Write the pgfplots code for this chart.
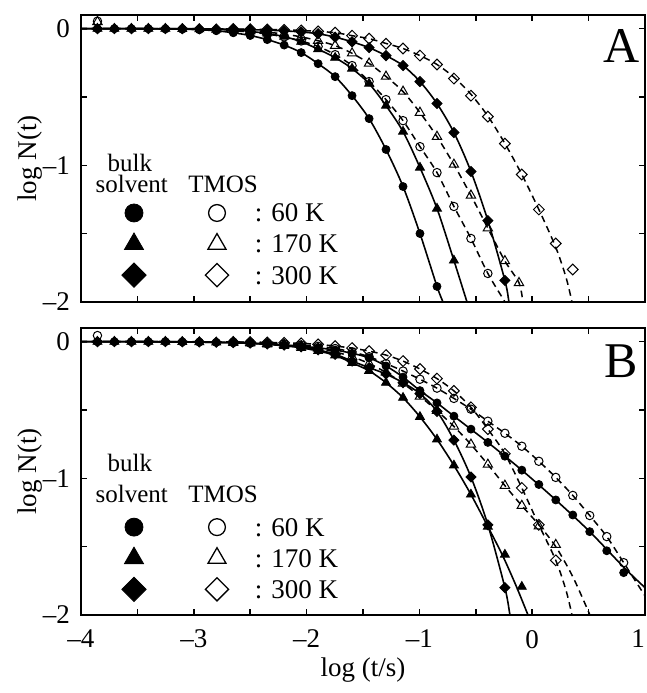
\documentclass[border=0pt]{standalone}
\usepackage{pgfplots}
\pgfplotsset{compat=1.18}
\usepackage{fontspec}
\setmainfont{Liberation Serif}
\pgfplotsset{
  panel/.style={
    scale only axis, width=282pt, height=143.5pt,
    xmin=-4, xmax=1, ymin=-2, ymax=0.1,
    xtick={-4,-3,-2,-1,0,1}, minor xtick={-3.5,-2.5,-1.5,-0.5,0.5},
    ytick={-2,-1,0}, minor ytick={-1.5,-0.5},
    yticklabels={--2,--1,0},
    tick align=inside, major tick length=2.8pt, minor tick length=2.8pt,
    axis line style={line width=1.1pt},
    every tick/.append style={line width=0.8pt, black},
    tick label style={font=\fontsize{13.5}{15}\selectfont},
    /pgf/number format/assume math mode=true,
    yticklabel style={xshift=-2pt},
    xticklabel style={yshift=-4pt},
    ylabel={log N(t)},
    every axis y label/.style={at={(axis description cs:-0.091,0.5)}, rotate=90, anchor=center, font=\fontsize{13.5}{15}\selectfont},
    every axis x label/.style={at={(axis description cs:0.5,-0.1916)}, anchor=center, font=\fontsize{13.5}{15}\selectfont},
    legend columns=2,
    legend style={draw=none, fill=none, inner sep=0pt, outer sep=0pt, row sep=3.5pt, column sep=0pt,
      nodes={inner sep=0pt, text depth=0pt, font=\fontsize{13.5}{15}\selectfont}, cells={anchor=west}},
  },
  fitb/.style={line width=0.8pt, black, smooth, no marks, forget plot},
  fitt/.style={line width=0.75pt, black, smooth, no marks, dash pattern=on 3.3pt off 2.3pt, forget plot},
  legb/.style={legend image code/.code={\pgfpathrectangle{\pgfpoint{-8pt}{-6pt}}{\pgfpoint{40.5pt}{12pt}}\pgfusepath{discard}\draw[##1] plot coordinates {(0pt,0pt)};}},
  legt/.style={legend image code/.code={\pgfpathrectangle{\pgfpoint{-8pt}{-6pt}}{\pgfpoint{27pt}{12pt}}\pgfusepath{discard}\draw[##1] plot coordinates {(0pt,0pt)};}},
  mb60/.style={only marks, black, mark=*, mark size=2pt, legb, legend image post style={mark size=4.5pt}},
  mb170/.style={only marks, black, mark=triangle*, mark size=2.6pt, legb, legend image post style={mark size=5.5pt}},
  mb300/.style={only marks, black, mark=square*, mark size=1.8pt, mark options={rotate=45}, legb, legend image post style={mark size=4.3pt}},
  mt60/.style={only marks, black, mark=o, mark size=2.1pt, mark options={line width=0.5pt}, legt, legend image post style={mark size=4.2pt, mark options={line width=0.65pt}}},
  mt170/.style={only marks, black, mark=triangle, mark size=2.7pt, mark options={line width=0.5pt}, legt, legend image post style={mark size=5.2pt, mark options={line width=0.65pt}}},
  mt300/.style={only marks, black, mark=square, mark size=1.9pt, mark options={rotate=45, line width=0.5pt}, legt, legend image post style={mark size=4.1pt, mark options={rotate=45, line width=0.65pt}}},
}
\begin{document}
\begin{tikzpicture}
% ---------------- Panel A ----------------
\begin{axis}[panel, at={(40.5pt,-151pt)}, anchor=south west, xticklabels={},
  legend style={at={(axis description cs:0.0656,0.352)}, anchor=north west}]
% fit lines
\addplot[fitb] coordinates {(-4.005,0) (-3.553,0) (-3.102,-0.004) (-2.951,-0.008) (-2.801,-0.015) (-2.650,-0.03) (-2.500,-0.05) (-2.349,-0.08) (-2.199,-0.12) (-2.048,-0.175) (-1.898,-0.256) (-1.747,-0.351) (-1.597,-0.490) (-1.446,-0.658) (-1.296,-0.884) (-1.145,-1.155) (-0.995,-1.499) (-0.844,-1.886) (-0.791,-2.0) (-0.77,-2.05)};
\addplot[fitb] coordinates {(-4.005,0) (-3.553,0) (-3.102,-0.002) (-2.951,-0.004) (-2.801,-0.006) (-2.650,-0.01) (-2.500,-0.02) (-2.349,-0.035) (-2.199,-0.058) (-2.048,-0.095) (-1.898,-0.15) (-1.747,-0.212) (-1.597,-0.292) (-1.446,-0.402) (-1.296,-0.563) (-1.145,-0.753) (-0.995,-1.016) (-0.844,-1.316) (-0.694,-1.696) (-0.578,-2.0) (-0.56,-2.05)};
\addplot[fitb] coordinates {(-4.005,0) (-3.553,0) (-3.102,0) (-2.801,-0.002) (-2.650,-0.004) (-2.500,-0.007) (-2.349,-0.011) (-2.199,-0.016) (-2.048,-0.024) (-1.898,-0.037) (-1.747,-0.062) (-1.597,-0.096) (-1.446,-0.139) (-1.296,-0.197) (-1.145,-0.270) (-0.995,-0.387) (-0.844,-0.548) (-0.694,-0.760) (-0.543,-1.045) (-0.393,-1.404) (-0.242,-1.842) (-0.206,-2.0) (-0.19,-2.07)};
\addplot[fitt] coordinates {(-4.005,0) (-3.553,0) (-3.102,-0.002) (-2.801,-0.007) (-2.650,-0.015) (-2.500,-0.025) (-2.349,-0.04) (-2.199,-0.06) (-2.048,-0.09) (-1.898,-0.13) (-1.747,-0.19) (-1.597,-0.27) (-1.446,-0.387) (-1.296,-0.519) (-1.145,-0.673) (-0.995,-0.863) (-0.844,-1.053) (-0.694,-1.301) (-0.543,-1.535) (-0.393,-1.791) (-0.241,-2.0) (-0.22,-2.03)};
\addplot[fitt] coordinates {(-4.005,0) (-3.553,0) (-3.102,-0.001) (-2.801,-0.004) (-2.650,-0.008) (-2.500,-0.015) (-2.349,-0.025) (-2.199,-0.04) (-2.048,-0.06) (-1.898,-0.088) (-1.747,-0.124) (-1.597,-0.18) (-1.446,-0.254) (-1.296,-0.35) (-1.145,-0.46) (-0.995,-0.614) (-0.844,-0.79) (-0.694,-0.994) (-0.543,-1.22) (-0.393,-1.46) (-0.242,-1.70) (-0.117,-1.86) (-0.082,-2.0) (-0.07,-2.05)};
\addplot[fitt] coordinates {(-4.005,0) (-3.553,0) (-3.102,0) (-2.650,-0.002) (-2.500,-0.004) (-2.349,-0.006) (-2.199,-0.009) (-2.048,-0.013) (-1.898,-0.02) (-1.747,-0.029) (-1.597,-0.051) (-1.446,-0.073) (-1.296,-0.108) (-1.145,-0.145) (-0.995,-0.197) (-0.844,-0.262) (-0.694,-0.355) (-0.543,-0.48) (-0.393,-0.64) (-0.242,-0.84) (-0.092,-1.067) (0.059,-1.323) (0.209,-1.60) (0.30,-1.82) (0.353,-2.0) (0.37,-2.07)};
% data points
\addplot[mb60] coordinates {(-4.005,0) (-3.854,0) (-3.704,0) (-3.553,0) (-3.403,0) (-3.252,-0.002) (-3.102,-0.004) (-2.951,-0.008) (-2.801,-0.015) (-2.650,-0.03) (-2.500,-0.05) (-2.349,-0.08) (-2.199,-0.12) (-2.048,-0.175) (-1.898,-0.256) (-1.747,-0.351) (-1.597,-0.490) (-1.446,-0.658) (-1.296,-0.884) (-1.145,-1.155) (-0.995,-1.499) (-0.844,-1.886)};
\addlegendentry{\hbox{}}
\addplot[mt60] coordinates {(-4.005,0.07) (-3.854,0.055) (-2.650,-0.015) (-2.500,-0.025) (-2.349,-0.04) (-2.199,-0.06) (-2.048,-0.09) (-1.898,-0.13) (-1.747,-0.19) (-1.597,-0.27) (-1.446,-0.387) (-1.296,-0.519) (-1.145,-0.673) (-0.995,-0.863) (-0.844,-1.053) (-0.694,-1.301) (-0.543,-1.535) (-0.393,-1.791)};
\addlegendentry{: 60 K}
\addplot[mb170] coordinates {(-4.005,0) (-3.854,0) (-3.704,0) (-3.553,0) (-3.403,0) (-3.252,0) (-3.102,-0.002) (-2.951,-0.004) (-2.801,-0.006) (-2.650,-0.01) (-2.500,-0.02) (-2.349,-0.035) (-2.199,-0.058) (-2.048,-0.095) (-1.898,-0.15) (-1.747,-0.212) (-1.597,-0.292) (-1.446,-0.402) (-1.296,-0.563) (-1.145,-0.753) (-0.995,-1.016) (-0.844,-1.316) (-0.694,-1.696)};
\addlegendentry{\hbox{}}
\addplot[mt170] coordinates {(-4.005,0.06) (-3.854,0.05) (-2.650,-0.008) (-2.500,-0.015) (-2.349,-0.025) (-2.199,-0.04) (-2.048,-0.06) (-1.898,-0.088) (-1.747,-0.124) (-1.597,-0.18) (-1.446,-0.254) (-1.296,-0.35) (-1.145,-0.46) (-0.995,-0.614) (-0.844,-0.79) (-0.694,-0.994) (-0.543,-1.22) (-0.393,-1.46) (-0.242,-1.70) (-0.117,-1.86)};
\addlegendentry{: 170 K}
\addplot[mb300] coordinates {(-4.005,0) (-3.854,0) (-3.704,0) (-3.553,0) (-3.403,0) (-3.252,0) (-3.102,0) (-2.951,-0.001) (-2.801,-0.002) (-2.650,-0.004) (-2.500,-0.007) (-2.349,-0.011) (-2.199,-0.016) (-2.048,-0.024) (-1.898,-0.037) (-1.747,-0.062) (-1.597,-0.096) (-1.446,-0.139) (-1.296,-0.197) (-1.145,-0.270) (-0.995,-0.387) (-0.844,-0.548) (-0.694,-0.760) (-0.543,-1.045) (-0.393,-1.404) (-0.242,-1.842)};
\addlegendentry{\hbox{}}
\addplot[mt300] coordinates {(-2.650,-0.002) (-2.500,-0.004) (-2.349,-0.006) (-2.199,-0.009) (-2.048,-0.013) (-1.898,-0.02) (-1.747,-0.029) (-1.597,-0.051) (-1.446,-0.073) (-1.296,-0.110) (-1.145,-0.145) (-0.995,-0.197) (-0.844,-0.262) (-0.694,-0.365) (-0.543,-0.490) (-0.393,-0.643) (-0.242,-0.841) (-0.092,-1.067) (0.059,-1.323) (0.209,-1.572) (0.360,-1.762)};
\addlegendentry{: 300 K}
\node[font=\fontsize{25}{28}\selectfont] at (axis description cs:0.958,0.893) {A};
\node[anchor=base, font=\fontsize{12.5}{14}\selectfont] at (axis description cs:0.0866,0.456) {bulk};
\node[anchor=base, font=\fontsize{12.5}{14}\selectfont] at (axis description cs:0.0900,0.380) {solvent};
\node[anchor=base, font=\fontsize{12.5}{14}\selectfont] at (axis description cs:0.2520,0.380) {TMOS};
\end{axis}
% ---------------- Panel B ----------------
\begin{axis}[panel, at={(40.5pt,-307.5pt)}, anchor=south west, xlabel={log (t/s)},
  xticklabels={--4,--3,--2,--1,0,\llap{1}},
  legend style={at={(axis description cs:0.0656,0.348)}, anchor=north west}]
\addplot[fitb] coordinates {(-4.005,0) (-3.553,0) (-3.102,-0.002) (-2.801,-0.005) (-2.650,-0.008) (-2.500,-0.012) (-2.349,-0.017) (-2.199,-0.024) (-2.048,-0.033) (-1.898,-0.045) (-1.747,-0.061) (-1.597,-0.085) (-1.446,-0.118) (-1.296,-0.178) (-1.145,-0.259) (-0.995,-0.358) (-0.844,-0.448) (-0.694,-0.545) (-0.393,-0.737) (-0.092,-0.940) (0.209,-1.158) (0.510,-1.39) (0.811,-1.65) (1.0,-1.80)};
\addplot[fitb] coordinates {(-4.005,0) (-3.553,0) (-3.102,-0.002) (-2.801,-0.005) (-2.650,-0.008) (-2.500,-0.013) (-2.349,-0.02) (-2.199,-0.03) (-2.048,-0.045) (-1.898,-0.068) (-1.747,-0.10) (-1.597,-0.155) (-1.446,-0.213) (-1.296,-0.30) (-1.145,-0.41) (-0.995,-0.55) (-0.844,-0.715) (-0.694,-0.905) (-0.543,-1.118) (-0.393,-1.353) (-0.265,-1.56) (-0.146,-1.78) (-0.037,-2.0) (-0.02,-2.03)};
\addplot[fitb] coordinates {(-4.005,0) (-3.553,0) (-3.102,-0.001) (-2.801,-0.004) (-2.650,-0.006) (-2.500,-0.01) (-2.349,-0.016) (-2.199,-0.025) (-2.048,-0.038) (-1.898,-0.06) (-1.747,-0.092) (-1.597,-0.142) (-1.446,-0.19) (-1.296,-0.237) (-1.145,-0.30) (-0.995,-0.38) (-0.844,-0.51) (-0.694,-0.72) (-0.543,-0.99) (-0.393,-1.34) (-0.242,-1.80) (-0.197,-2.0) (-0.18,-2.07)};
\addplot[fitt] coordinates {(-4.005,0) (-3.553,0) (-3.102,-0.001) (-2.801,-0.002) (-2.650,-0.004) (-2.500,-0.007) (-2.349,-0.011) (-2.199,-0.016) (-2.048,-0.024) (-1.898,-0.034) (-1.747,-0.05) (-1.597,-0.075) (-1.446,-0.11) (-1.296,-0.16) (-1.145,-0.215) (-0.995,-0.275) (-0.844,-0.34) (-0.694,-0.415) (-0.543,-0.494) (-0.393,-0.582) (-0.242,-0.670) (-0.092,-0.765) (0.059,-0.875) (0.209,-0.993) (0.360,-1.125) (0.510,-1.272) (0.661,-1.426) (0.811,-1.617) (1.0,-1.86)};
\addplot[fitt] coordinates {(-4.005,0) (-3.553,0) (-3.102,-0.001) (-2.801,-0.002) (-2.650,-0.004) (-2.500,-0.008) (-2.349,-0.014) (-2.199,-0.022) (-2.048,-0.033) (-1.898,-0.05) (-1.747,-0.075) (-1.597,-0.11) (-1.446,-0.16) (-1.296,-0.225) (-1.145,-0.305) (-0.995,-0.40) (-0.844,-0.505) (-0.694,-0.62) (-0.543,-0.752) (-0.393,-0.899) (-0.242,-1.053) (-0.092,-1.200) (0.059,-1.34) (0.209,-1.50) (0.36,-1.72) (0.512,-2.0) (0.53,-2.04)};
\addplot[fitt] coordinates {(-4.005,0) (-3.553,0) (-3.102,0) (-2.650,-0.002) (-2.500,-0.003) (-2.349,-0.005) (-2.199,-0.008) (-2.048,-0.012) (-1.898,-0.02) (-1.747,-0.032) (-1.597,-0.047) (-1.446,-0.069) (-1.296,-0.098) (-1.145,-0.142) (-0.995,-0.200) (-0.844,-0.27) (-0.694,-0.36) (-0.543,-0.48) (-0.393,-0.64) (-0.242,-0.82) (-0.092,-1.07) (0.059,-1.34) (0.209,-1.60) (0.30,-1.82) (0.353,-2.0) (0.37,-2.07)};
\addplot[mb60] coordinates {(-4.005,0) (-3.854,0) (-3.704,0) (-3.553,0) (-3.403,0) (-3.252,0) (-3.102,-0.002) (-2.951,-0.003) (-2.801,-0.005) (-2.650,-0.008) (-2.500,-0.012) (-2.349,-0.017) (-2.199,-0.024) (-2.048,-0.033) (-1.898,-0.045) (-1.747,-0.061) (-1.597,-0.085) (-1.446,-0.118) (-1.296,-0.178) (-1.145,-0.259) (-0.995,-0.358) (-0.844,-0.448) (-0.694,-0.545) (-0.543,-0.640) (-0.393,-0.737) (-0.242,-0.838) (-0.092,-0.940) (0.059,-1.045) (0.209,-1.158) (0.360,-1.268) (0.510,-1.390) (0.661,-1.530) (0.811,-1.690)};
\addlegendentry{\hbox{}}
\addplot[mt60] coordinates {(-4.005,0.04) (-3.854,0.045) (-2.650,-0.004) (-2.500,-0.007) (-2.349,-0.011) (-2.199,-0.016) (-2.048,-0.024) (-1.898,-0.034) (-1.747,-0.05) (-1.597,-0.075) (-1.446,-0.11) (-1.296,-0.16) (-1.145,-0.215) (-0.995,-0.275) (-0.844,-0.34) (-0.694,-0.415) (-0.543,-0.494) (-0.393,-0.582) (-0.242,-0.670) (-0.092,-0.765) (0.059,-0.875) (0.209,-0.993) (0.360,-1.125) (0.510,-1.272) (0.661,-1.426) (0.811,-1.617)};
\addlegendentry{: 60 K}
\addplot[mb170] coordinates {(-4.005,0) (-3.854,0) (-3.704,0) (-3.553,0) (-3.403,0) (-3.252,0) (-3.102,-0.002) (-2.951,-0.003) (-2.801,-0.005) (-2.650,-0.008) (-2.500,-0.013) (-2.349,-0.02) (-2.199,-0.03) (-2.048,-0.045) (-1.898,-0.068) (-1.747,-0.10) (-1.597,-0.155) (-1.446,-0.213) (-1.296,-0.30) (-1.145,-0.41) (-0.995,-0.55) (-0.844,-0.715) (-0.694,-0.905) (-0.543,-1.118) (-0.393,-1.353) (-0.242,-1.558) (-0.092,-1.793)};
\addlegendentry{\hbox{}}
\addplot[mt170] coordinates {(-2.650,-0.004) (-2.500,-0.008) (-2.349,-0.014) (-2.199,-0.022) (-2.048,-0.033) (-1.898,-0.05) (-1.747,-0.075) (-1.597,-0.11) (-1.446,-0.16) (-1.296,-0.225) (-1.145,-0.305) (-0.995,-0.40) (-0.844,-0.505) (-0.694,-0.62) (-0.543,-0.752) (-0.393,-0.899) (-0.242,-1.053) (-0.092,-1.200) (0.059,-1.35) (0.209,-1.486)};
\addlegendentry{: 170 K}
\addplot[mb300] coordinates {(-4.005,0) (-3.854,0) (-3.704,0) (-3.553,0) (-3.403,0) (-3.252,0) (-3.102,-0.001) (-2.951,-0.002) (-2.801,-0.004) (-2.650,-0.006) (-2.500,-0.01) (-2.349,-0.016) (-2.199,-0.025) (-2.048,-0.038) (-1.898,-0.06) (-1.747,-0.092) (-1.597,-0.142) (-1.446,-0.19) (-1.296,-0.237) (-1.145,-0.30) (-0.995,-0.38) (-0.844,-0.51) (-0.694,-0.72) (-0.543,-0.99) (-0.393,-1.34) (-0.242,-1.80)};
\addlegendentry{\hbox{}}
\addplot[mt300] coordinates {(-2.650,-0.002) (-2.500,-0.003) (-2.349,-0.005) (-2.199,-0.008) (-2.048,-0.012) (-1.898,-0.02) (-1.747,-0.032) (-1.597,-0.047) (-1.446,-0.069) (-1.296,-0.098) (-1.145,-0.142) (-0.995,-0.200) (-0.844,-0.27) (-0.694,-0.36) (-0.543,-0.48) (-0.393,-0.64) (-0.242,-0.82) (-0.092,-1.07) (0.059,-1.34) (0.209,-1.60)};
\addlegendentry{: 300 K}
\node[font=\fontsize{25}{28}\selectfont] at (axis description cs:0.957,0.883) {B};
\node[anchor=base, font=\fontsize{12.5}{14}\selectfont] at (axis description cs:0.0866,0.500) {bulk};
\node[anchor=base, font=\fontsize{12.5}{14}\selectfont] at (axis description cs:0.0900,0.393) {solvent};
\node[anchor=base, font=\fontsize{12.5}{14}\selectfont] at (axis description cs:0.2520,0.393) {TMOS};
\end{axis}
\pgfresetboundingbox
\path[use as bounding box] (0pt,0pt) rectangle (323.5pt,-346.5pt);
\end{tikzpicture}
\end{document}
